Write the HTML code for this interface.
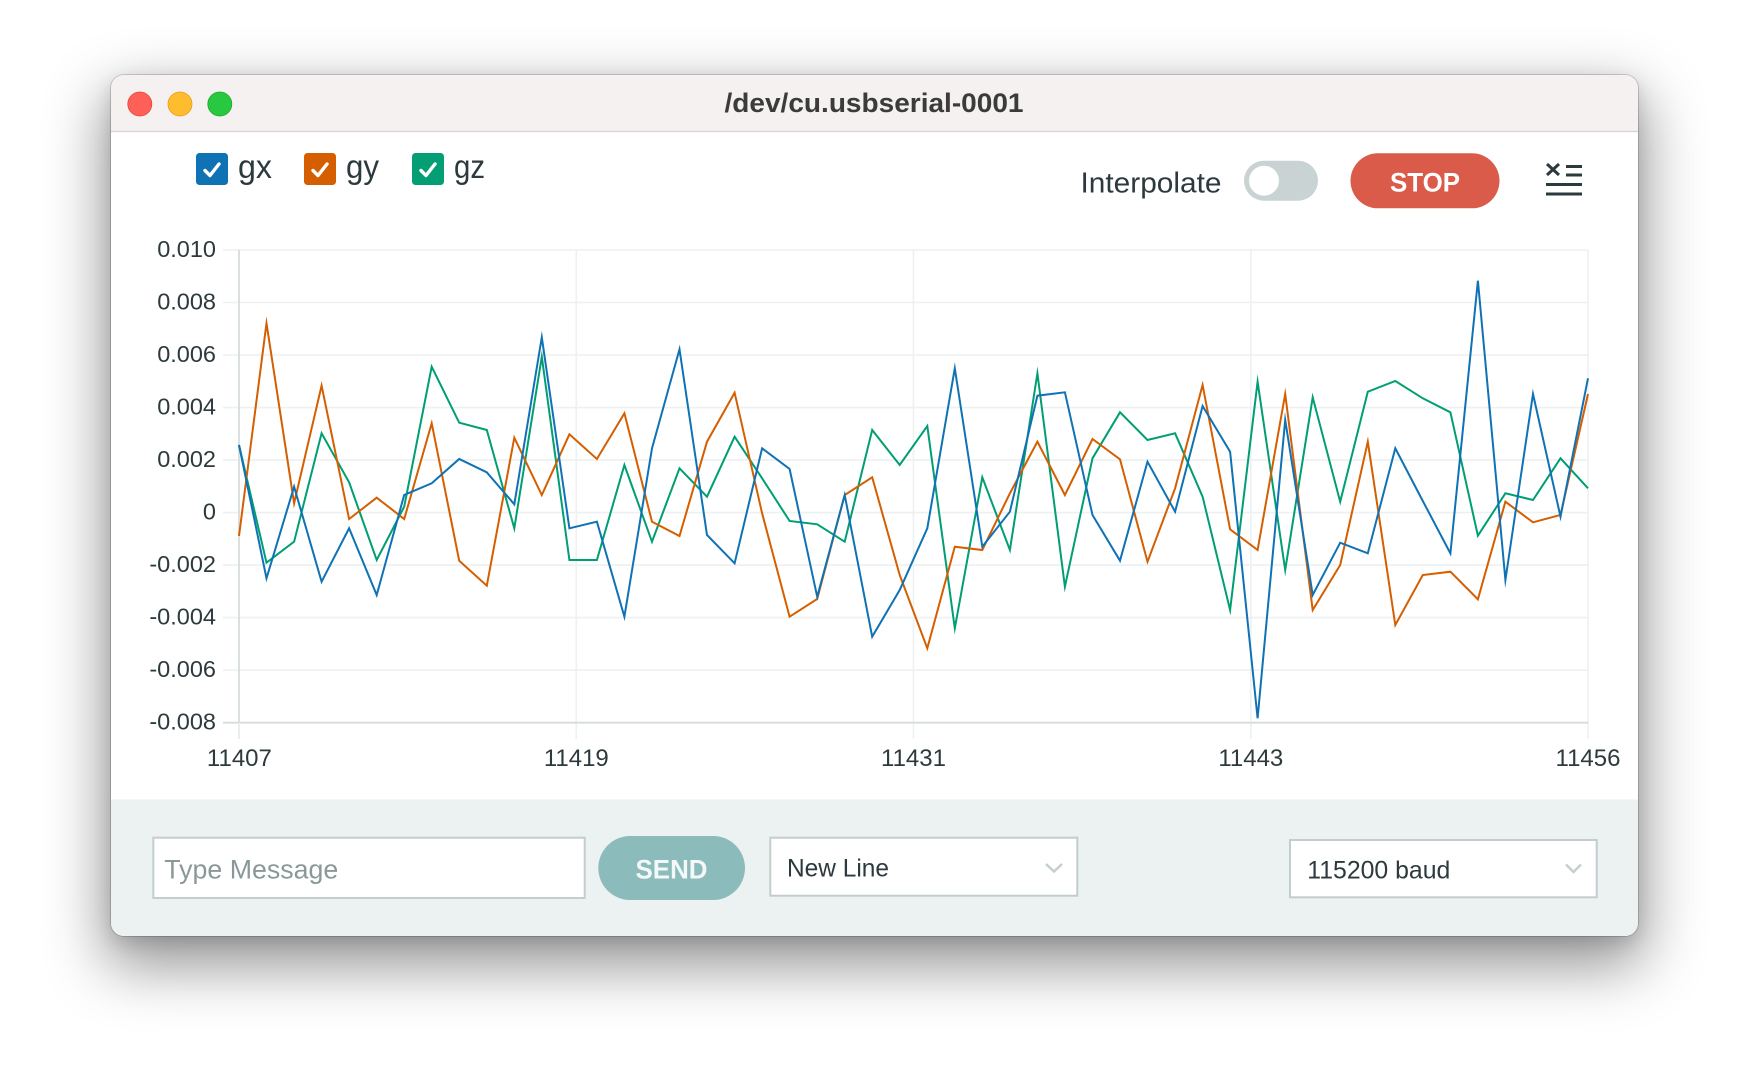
<!DOCTYPE html>
<html>
<head>
<meta charset="utf-8">
<style>
  html,body{margin:0;padding:0;background:#ffffff;}
  body{width:1750px;height:1084px;position:relative;overflow:hidden;}
  .win{position:absolute;left:111px;top:75px;width:1527px;height:861px;border-radius:13px;overflow:hidden;
       background:#ffffff;
       box-shadow:0 0 0 1px rgba(0,0,0,0.16), 0 24px 60px 6px rgba(0,0,0,0.42), 0 6px 18px rgba(0,0,0,0.12);}
  .win svg{position:absolute;left:0;top:0;display:block;}
  text{font-family:"Liberation Sans", Arial, sans-serif;}
</style>
</head>
<body>
<div class="win">
<svg width="1527" height="861" viewBox="111 75 1527 861" xmlns="http://www.w3.org/2000/svg">
  <!-- title bar -->
  <rect x="111" y="75" width="1527" height="57" fill="#f4f1f0"/>
  <line x1="111" y1="131.5" x2="1638" y2="131.5" stroke="#d8d5d4" stroke-width="1.5"/>
  <circle cx="139.8" cy="104" r="12" fill="#fe5f57" stroke="#e2463f" stroke-width="0.8"/>
  <circle cx="180" cy="104" r="12" fill="#febc2e" stroke="#e1a116" stroke-width="0.8"/>
  <circle cx="219.8" cy="104" r="12" fill="#28c840" stroke="#1aab29" stroke-width="0.8"/>
  <text x="874" y="112" font-size="27" font-weight="bold" fill="#3b3b3b" text-anchor="middle" textLength="299" lengthAdjust="spacingAndGlyphs">/dev/cu.usbserial-0001</text>

  <!-- content -->
  <rect x="111" y="132.3" width="1527" height="667.5" fill="#ffffff"/>

  <!-- legend -->
  <rect x="196" y="153" width="32" height="32" rx="3.5" fill="#0f72b5"/>
  <path d="M205 170.5 L210 175.5 L219 164" fill="none" stroke="#ffffff" stroke-width="3.4" stroke-linecap="round" stroke-linejoin="round"/>
  <text x="238" y="178" font-size="33" fill="#2c3a3d" textLength="34" lengthAdjust="spacingAndGlyphs">gx</text>
  <rect x="304" y="153" width="32" height="32" rx="3.5" fill="#d55e00"/>
  <path d="M313 170.5 L318 175.5 L327 164" fill="none" stroke="#ffffff" stroke-width="3.4" stroke-linecap="round" stroke-linejoin="round"/>
  <text x="346" y="178" font-size="33" fill="#2c3a3d" textLength="33" lengthAdjust="spacingAndGlyphs">gy</text>
  <rect x="412" y="153" width="32" height="32" rx="3.5" fill="#049e74"/>
  <path d="M421 170.5 L426 175.5 L435 164" fill="none" stroke="#ffffff" stroke-width="3.4" stroke-linecap="round" stroke-linejoin="round"/>
  <text x="454" y="178" font-size="33" fill="#2c3a3d" textLength="31" lengthAdjust="spacingAndGlyphs">gz</text>

  <!-- interpolate / toggle / stop / menu -->
  <text x="1080.5" y="192.5" font-size="29" fill="#2c3a3d" textLength="141" lengthAdjust="spacingAndGlyphs">Interpolate</text>
  <rect x="1244" y="160.7" width="74" height="40" rx="20" fill="#c9d3d3"/>
  <circle cx="1264" cy="180.7" r="15" fill="#ffffff"/>
  <rect x="1350.5" y="153.3" width="149" height="55" rx="27.5" fill="#da5b4a"/>
  <text x="1425" y="191.5" font-size="27" font-weight="bold" fill="#ffffff" text-anchor="middle" textLength="70" lengthAdjust="spacingAndGlyphs">STOP</text>
  <g stroke="#2c3a3d" stroke-width="3" stroke-linecap="butt">
    <line x1="1547" y1="164" x2="1559" y2="175"/>
    <line x1="1559" y1="164" x2="1547" y2="175"/>
    <line x1="1566" y1="166.5" x2="1582" y2="166.5"/>
    <line x1="1566" y1="175" x2="1582" y2="175"/>
    <line x1="1546" y1="184.5" x2="1582" y2="184.5"/>
    <line x1="1546" y1="194" x2="1582" y2="194"/>
  </g>

  <!-- grid -->
  <g stroke="#edf1f1" stroke-width="1.6">
    <line x1="223" y1="250" x2="1588" y2="250"/>
    <line x1="223" y1="302.5" x2="1588" y2="302.5"/>
    <line x1="223" y1="355" x2="1588" y2="355"/>
    <line x1="223" y1="407.6" x2="1588" y2="407.6"/>
    <line x1="223" y1="460.1" x2="1588" y2="460.1"/>
    <line x1="223" y1="512.6" x2="1588" y2="512.6"/>
    <line x1="223" y1="565.1" x2="1588" y2="565.1"/>
    <line x1="223" y1="617.6" x2="1588" y2="617.6"/>
    <line x1="223" y1="670.2" x2="1588" y2="670.2"/>
    <line x1="576.3" y1="250" x2="576.3" y2="739"/>
    <line x1="913.5" y1="250" x2="913.5" y2="739"/>
    <line x1="1250.8" y1="250" x2="1250.8" y2="739"/>
    <line x1="1588" y1="250" x2="1588" y2="739"/>
  </g>
  <line x1="223" y1="722.7" x2="1588" y2="722.7" stroke="#d6dcdc" stroke-width="1.8"/>
  <line x1="239" y1="250" x2="239" y2="722.7" stroke="#d6dcdc" stroke-width="1.8"/>
  <line x1="239" y1="722.7" x2="239" y2="739" stroke="#e6ebeb" stroke-width="1.8"/>

  <!-- y labels -->
  <g font-size="23.5" fill="#2c3a3d" text-anchor="end">
    <text x="216" y="257">0.010</text>
    <text x="216" y="309.5">0.008</text>
    <text x="216" y="362">0.006</text>
    <text x="216" y="414.6">0.004</text>
    <text x="216" y="467.1">0.002</text>
    <text x="216" y="519.6">0</text>
    <text x="216" y="572.1">-0.002</text>
    <text x="216" y="624.6">-0.004</text>
    <text x="216" y="677.2">-0.006</text>
    <text x="216" y="729.7">-0.008</text>
  </g>
  <!-- x labels -->
  <g font-size="24" fill="#2c3a3d" text-anchor="middle">
    <text x="239.4" y="766">11407</text>
    <text x="576.3" y="766">11419</text>
    <text x="913.5" y="766">11431</text>
    <text x="1250.8" y="766">11443</text>
    <text x="1588" y="766">11456</text>
  </g>

  <!-- series -->
  <g fill="none" stroke-width="2" stroke-linejoin="miter" stroke-miterlimit="10">
    <polyline stroke="#009e73" points="239,445 266.5,562.7 294.1,541.7 321.6,433.3 349.1,482.3 376.7,560 404.2,506.7 431.7,366.7 459.2,422.7 486.8,430 514.3,528.3 541.8,356.7 569.4,560 596.9,560 624.4,465 652,541.7 679.5,468.3 707,496.7 734.6,436.7 762.1,478.3 789.6,521 817.2,524.3 844.7,541.7 872.2,430 899.7,465 927.3,426 954.8,628.3 982.3,477.3 1009.9,550 1037.4,373.3 1064.9,586.7 1092.5,458.3 1120,412.3 1147.5,440 1175.1,433.3 1202.6,496.7 1230.1,610 1257.6,381.7 1285.2,570 1312.7,397.3 1340.2,501.7 1367.8,391.7 1395.3,381 1422.8,398.3 1450.4,412.3 1477.9,535.7 1505.4,493.3 1533,500 1560.5,458.3 1588,488.3"/>
    <polyline stroke="#d55e00" points="239,536 266.5,323.3 294.1,503.3 321.6,385.7 349.1,519 376.7,497.7 404.2,519 431.7,423.3 459.2,560.7 486.8,585.7 514.3,437.7 541.8,495 569.4,434.3 596.9,459 624.4,413.3 652,521.7 679.5,536 707,441.7 734.6,392.7 762.1,513.3 789.6,616.7 817.2,599 844.7,495 872.2,477.3 899.7,575 927.3,648.3 954.8,546.7 982.3,550 1009.9,493.3 1037.4,441.7 1064.9,495 1092.5,439 1120,459.3 1147.5,561.7 1175.1,488.3 1202.6,385 1230.1,529.3 1257.6,550 1285.2,394 1312.7,610 1340.2,565 1367.8,441.7 1395.3,625 1422.8,575 1450.4,571.7 1477.9,599.3 1505.4,501.7 1533,522.3 1560.5,515 1588,394"/>
    <polyline stroke="#0f72b5" points="239,445 266.5,578.3 294.1,486.7 321.6,581.7 349.1,528.3 376.7,595 404.2,495 431.7,483.3 459.2,459 486.8,472.3 514.3,504.3 541.8,337.3 569.4,528.3 596.9,521.7 624.4,616.7 652,448.3 679.5,349.3 707,535 734.6,563.3 762.1,448.3 789.6,469 817.2,596.7 844.7,495 872.2,636.7 899.7,590 927.3,528.3 954.8,368.3 982.3,546.7 1009.9,511.7 1037.4,395.7 1064.9,392.3 1092.5,515 1120,560.7 1147.5,461.7 1175.1,511.7 1202.6,406 1230.1,451.7 1257.6,718.3 1285.2,420 1312.7,595 1340.2,542.7 1367.8,553.3 1395.3,448.3 1422.8,501 1450.4,553.3 1477.9,280.7 1505.4,580 1533,394 1560.5,516.7 1588,378.3"/>
  </g>

  <!-- bottom bar -->
  <rect x="111" y="799.5" width="1527" height="137" fill="#ecf1f1"/>
  <rect x="153.3" y="837.7" width="431.4" height="60.3" fill="#ffffff" stroke="#c3cdcd" stroke-width="2"/>
  <text x="164.3" y="878.3" font-size="27" fill="#8a9899" textLength="174" lengthAdjust="spacingAndGlyphs">Type Message</text>
  <rect x="598.3" y="836" width="146.7" height="64" rx="32" fill="#8bbbba"/>
  <text x="671.5" y="878.3" font-size="27" font-weight="bold" fill="#f4f8f8" text-anchor="middle" textLength="72" lengthAdjust="spacingAndGlyphs">SEND</text>
  <rect x="770.3" y="837.7" width="307" height="58" fill="#ffffff" stroke="#c3cdcd" stroke-width="2"/>
  <text x="787" y="876.7" font-size="25" fill="#2c3a3d" textLength="102" lengthAdjust="spacingAndGlyphs">New Line</text>
  <polyline points="1046,864 1054,871.5 1062,864" fill="none" stroke="#c5cfcf" stroke-width="2.5"/>
  <rect x="1290" y="840" width="306.7" height="57.3" fill="#ffffff" stroke="#c3cdcd" stroke-width="2"/>
  <text x="1307.3" y="878.3" font-size="25" fill="#2c3a3d" textLength="143" lengthAdjust="spacingAndGlyphs">115200 baud</text>
  <polyline points="1566,864.5 1573.5,872 1581,864.5" fill="none" stroke="#c5cfcf" stroke-width="2.5"/>
</svg>
</div>
</body>
</html>
